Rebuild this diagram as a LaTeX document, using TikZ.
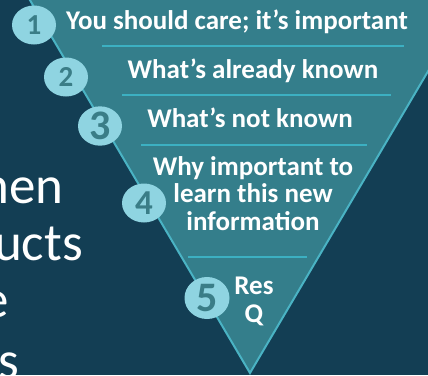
\documentclass[tikz,border=0pt]{standalone}
\usepackage{fontspec}
\setmainfont{Carlito}
\usetikzlibrary{shapes.geometric}
\definecolor{bgdark}{HTML}{133E54}
\definecolor{tricol}{HTML}{347E8B}
\definecolor{edgecol}{HTML}{4AB3C4}
\definecolor{sepcol}{HTML}{3CB0C2}
\definecolor{disccol}{HTML}{8FD4E1}
\definecolor{numcol}{HTML}{3A7D87}
\begin{document}
\begin{tikzpicture}[x=1pt,y=-1pt,
  lbl/.style={text=white, font=\bfseries\fontsize{27}{27.5}\selectfont, align=center, inner sep=0pt, anchor=base},
  bigtxt/.style={text=white, font=\fontsize{53}{57}\selectfont, inner sep=0pt, anchor=base east},
  numdisc/.style={ellipse, fill=disccol, minimum width=44pt, minimum height=39pt, inner sep=0pt, text=numcol},
  dsmall/.style={font=\bfseries\fontsize{29}{29}\selectfont},
  dmid/.style={font=\bfseries\fontsize{35}{35}\selectfont},
  dlarge/.style={font=\bfseries\fontsize{42}{42}\selectfont},
  sepline/.style={draw=sepcol, line width=1.2pt}]
\useasboundingbox (0,0) rectangle (428,375);
\clip (0,0) rectangle (428,375);
\fill[bgdark] (0,0) rectangle (428,375);
% left text (partly cut off)
\node[bigtxt] (w1) at (64,203) {hen};
\node[bigtxt] (w2) at (83,260) {ucts};
\node[bigtxt] (w3) at (9,317) {e};
\node[bigtxt] (w4) at (19,378) {s};
% inverted triangle
\coordinate (apex) at (250,373);
\coordinate (tl) at (24,-10);
\coordinate (tr) at (476,-10);
\filldraw[fill=tricol, draw=edgecol, line width=2pt, line join=miter] (tl) -- (apex) -- (tr) -- cycle;
% separators
\draw[sepline] (102,46) -- (404,46);
\draw[sepline] (122,95) -- (391,95);
\draw[sepline] (141,145) -- (367,145);
\draw[sepline] (188,257) -- (307,257);
% labels
\node[lbl] (t1) at (237,29) {You should care; it’s important};
\node[lbl] (t2) at (253,78) {What’s already known};
\node[lbl] (t3) at (250,127) {What’s not known};
\node[lbl] (t4) at (253,230) {Why important to\\learn this new\\information};
\node[lbl] (t5) at (254,322) {Res\\Q};
% number discs
\node[numdisc, dsmall] (c1) at (34,25) {1};
\node[numdisc, dsmall] (c2) at (66,77) {2};
\node[numdisc, dlarge] (c3) at (100,126) {3};
\node[numdisc, dmid] (c4) at (144,203) {4};
\node[numdisc, dlarge, minimum width=45pt, minimum height=42pt] (c5) at (207,298) {5};
\end{tikzpicture}
\end{document}
